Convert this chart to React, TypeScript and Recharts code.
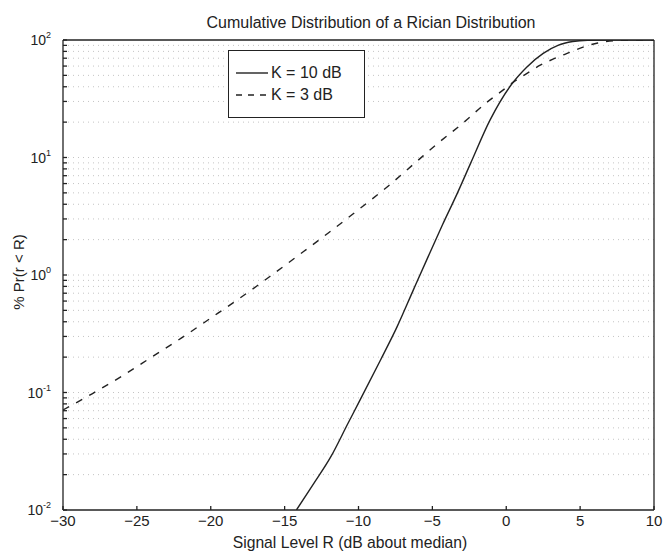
import { LineChart, Line, XAxis, YAxis, ReferenceLine } from "recharts";

// Rician CDF.
const X_TICKS = [-30, -25, -20, -15, -10, -5, 0, 5, 10];
const Y_MAJOR = [0.01, 0.1, 1, 10, 100];
const Y_MINOR_STEPS = [2, 3, 4, 5, 6, 7, 8, 9];

// K = 10 dB (solid)
const K10_X = [-14.2, -13.0, -11.9, -10.7, -9.9, -8.5, -7.4, -6.3, -5.3, -4.3, -3.3, -2.4, -1.1, 0.3, 1.4, 2.5, 3.5, 4.5, 5.5, 7, 10];
const K10_Y = [0.01, 0.017, 0.028, 0.055, 0.086, 0.19, 0.36, 0.74, 1.42, 2.7, 5.0, 9.0, 20.8, 41, 59, 77, 90, 97, 99.5, 100, 100];

// K = 3 dB (dashed)
const K3_X = [-30, -28, -26, -24, -22, -20, -18, -16, -14, -12, -10, -8, -6, -4.6, -3, -1.3, -0.2, 0.5, 1.3, 2.3, 3.2, 4.2, 5.2, 6.2, 7.5, 10];
const K3_Y = [0.071, 0.098, 0.138, 0.2, 0.29, 0.43, 0.64, 0.97, 1.49, 2.3, 3.6, 5.7, 9.4, 13.3, 19.3, 29.6, 37.6, 44, 51, 61, 69, 77.6, 87, 94.4, 99, 100];

const INK = "#222";
const FONT = '"Liberation Sans", Arial, sans-serif';

const k10 = K10_X.map((x, i) => ({ x, y: K10_Y[i] }));
const k3 = K3_X.map((x, i) => ({ x, y: K3_Y[i] }));

const yTicks: number[] = [];
Y_MAJOR.forEach((d, i) => {
  yTicks.push(d);
  if (i < Y_MAJOR.length - 1) Y_MINOR_STEPS.forEach((m) => yTicks.push(d * m));
});
const gridValues = yTicks.filter((v) => v > 0.01 && v < 100);

function PowerTick(props: any) {
  const { x, y, payload } = props;
  const v = payload.value;
  if (!Y_MAJOR.includes(v)) return <g />;
  const exp = Math.round(Math.log10(v));
  return (
    <text x={x} y={y} dy={5} textAnchor="end" fontSize={14} fill={INK} fontFamily={FONT}>
      10
      <tspan dy={-7} fontSize={9}>
        {exp}
      </tspan>
    </text>
  );
}

const NoTick = () => <g />;

const fmtX = (v: number) => (v < 0 ? `\u2212${-v}` : `${v}`);

export default function App() {
  return (
    <div
      style={{
        position: "absolute",
        left: 0,
        top: 0,
        width: 663,
        height: 554,
        background: "#fff",
        fontFamily: FONT,
        color: INK,
      }}
    >
      <LineChart width={663} height={554} margin={{ top: 39, right: 8, bottom: 43, left: 62 }}>
        <XAxis
          xAxisId="b"
          dataKey="x"
          type="number"
          domain={[-30, 10]}
          ticks={X_TICKS}
          tickFormatter={fmtX}
          height={1}
          tickSize={-4}
          tickMargin={9}
          tick={{ fontSize: 15, fill: INK, fontFamily: FONT }}
          stroke={INK}
          strokeWidth={1.3}
          allowDataOverflow
        />
        <XAxis
          xAxisId="t"
          orientation="top"
          dataKey="x"
          type="number"
          domain={[-30, 10]}
          ticks={X_TICKS}
          height={1}
          tickSize={-4}
          tick={NoTick}
          stroke={INK}
          strokeWidth={1.3}
        />
        <YAxis
          yAxisId="l"
          dataKey="y"
          type="number"
          scale="log"
          domain={[0.01, 100]}
          ticks={yTicks}
          width={1}
          tickSize={-4}
          tickMargin={16}
          tick={PowerTick}
          interval={0}
          stroke={INK}
          strokeWidth={1.3}
          allowDataOverflow
        />
        <YAxis
          yAxisId="r"
          orientation="right"
          type="number"
          scale="log"
          domain={[0.01, 100]}
          ticks={yTicks}
          width={1}
          tickSize={-4}
          tick={NoTick}
          interval={0}
          stroke={INK}
          strokeWidth={1.3}
        />
        {gridValues.map((v) => (
          <ReferenceLine
            key={v}
            xAxisId="b"
            yAxisId="l"
            y={v}
            stroke="#c4c4c4"
            strokeDasharray="1 4"
          />
        ))}
        <Line
          xAxisId="b"
          yAxisId="l"
          data={k3}
          dataKey="y"
          type="monotone"
          stroke={INK}
          strokeWidth={1.4}
          strokeDasharray="7 8"
          dot={false}
          isAnimationActive={false}
        />
        <Line
          xAxisId="b"
          yAxisId="l"
          data={k10}
          dataKey="y"
          type="monotone"
          stroke={INK}
          strokeWidth={1.4}
          dot={false}
          isAnimationActive={false}
        />
      </LineChart>

      <div
        style={{
          position: "absolute",
          left: 371,
          top: 23,
          transform: "translate(-50%, -50%)",
          fontSize: 16,
          whiteSpace: "nowrap",
        }}
      >
        Cumulative Distribution of a Rician Distribution
      </div>
      <div
        style={{
          position: "absolute",
          left: 350,
          top: 543,
          transform: "translate(-50%, -50%)",
          fontSize: 15.7,
          whiteSpace: "nowrap",
        }}
      >
        Signal Level R (dB about median)
      </div>
      <div
        style={{
          position: "absolute",
          left: 18,
          top: 272,
          transform: "translate(-50%, -50%) rotate(-90deg)",
          fontSize: 15,
          whiteSpace: "nowrap",
        }}
      >
        % Pr(r &lt; R)
      </div>

      <div
        style={{
          position: "absolute",
          left: 228,
          top: 50,
          width: 137,
          height: 68,
          boxSizing: "border-box",
          border: `1.5px solid ${INK}`,
          background: "#fff",
          fontSize: 16,
        }}
      >
        {[
          { label: "K = 10 dB", dash: undefined },
          { label: "K = 3 dB", dash: "6 6" },
        ].map((e, i) => (
          <div
            key={e.label}
            style={{
              position: "absolute",
              left: 6,
              top: i === 0 ? 13 : 35,
              height: 18,
              display: "flex",
              alignItems: "center",
              whiteSpace: "nowrap",
            }}
          >
            <svg width={34} height={18}>
              <line x1={1} y1={9} x2={33} y2={9} stroke={INK} strokeWidth={1.4} strokeDasharray={e.dash} />
            </svg>
            <span style={{ marginLeft: 2 }}>{e.label}</span>
          </div>
        ))}
      </div>
    </div>
  );
}
